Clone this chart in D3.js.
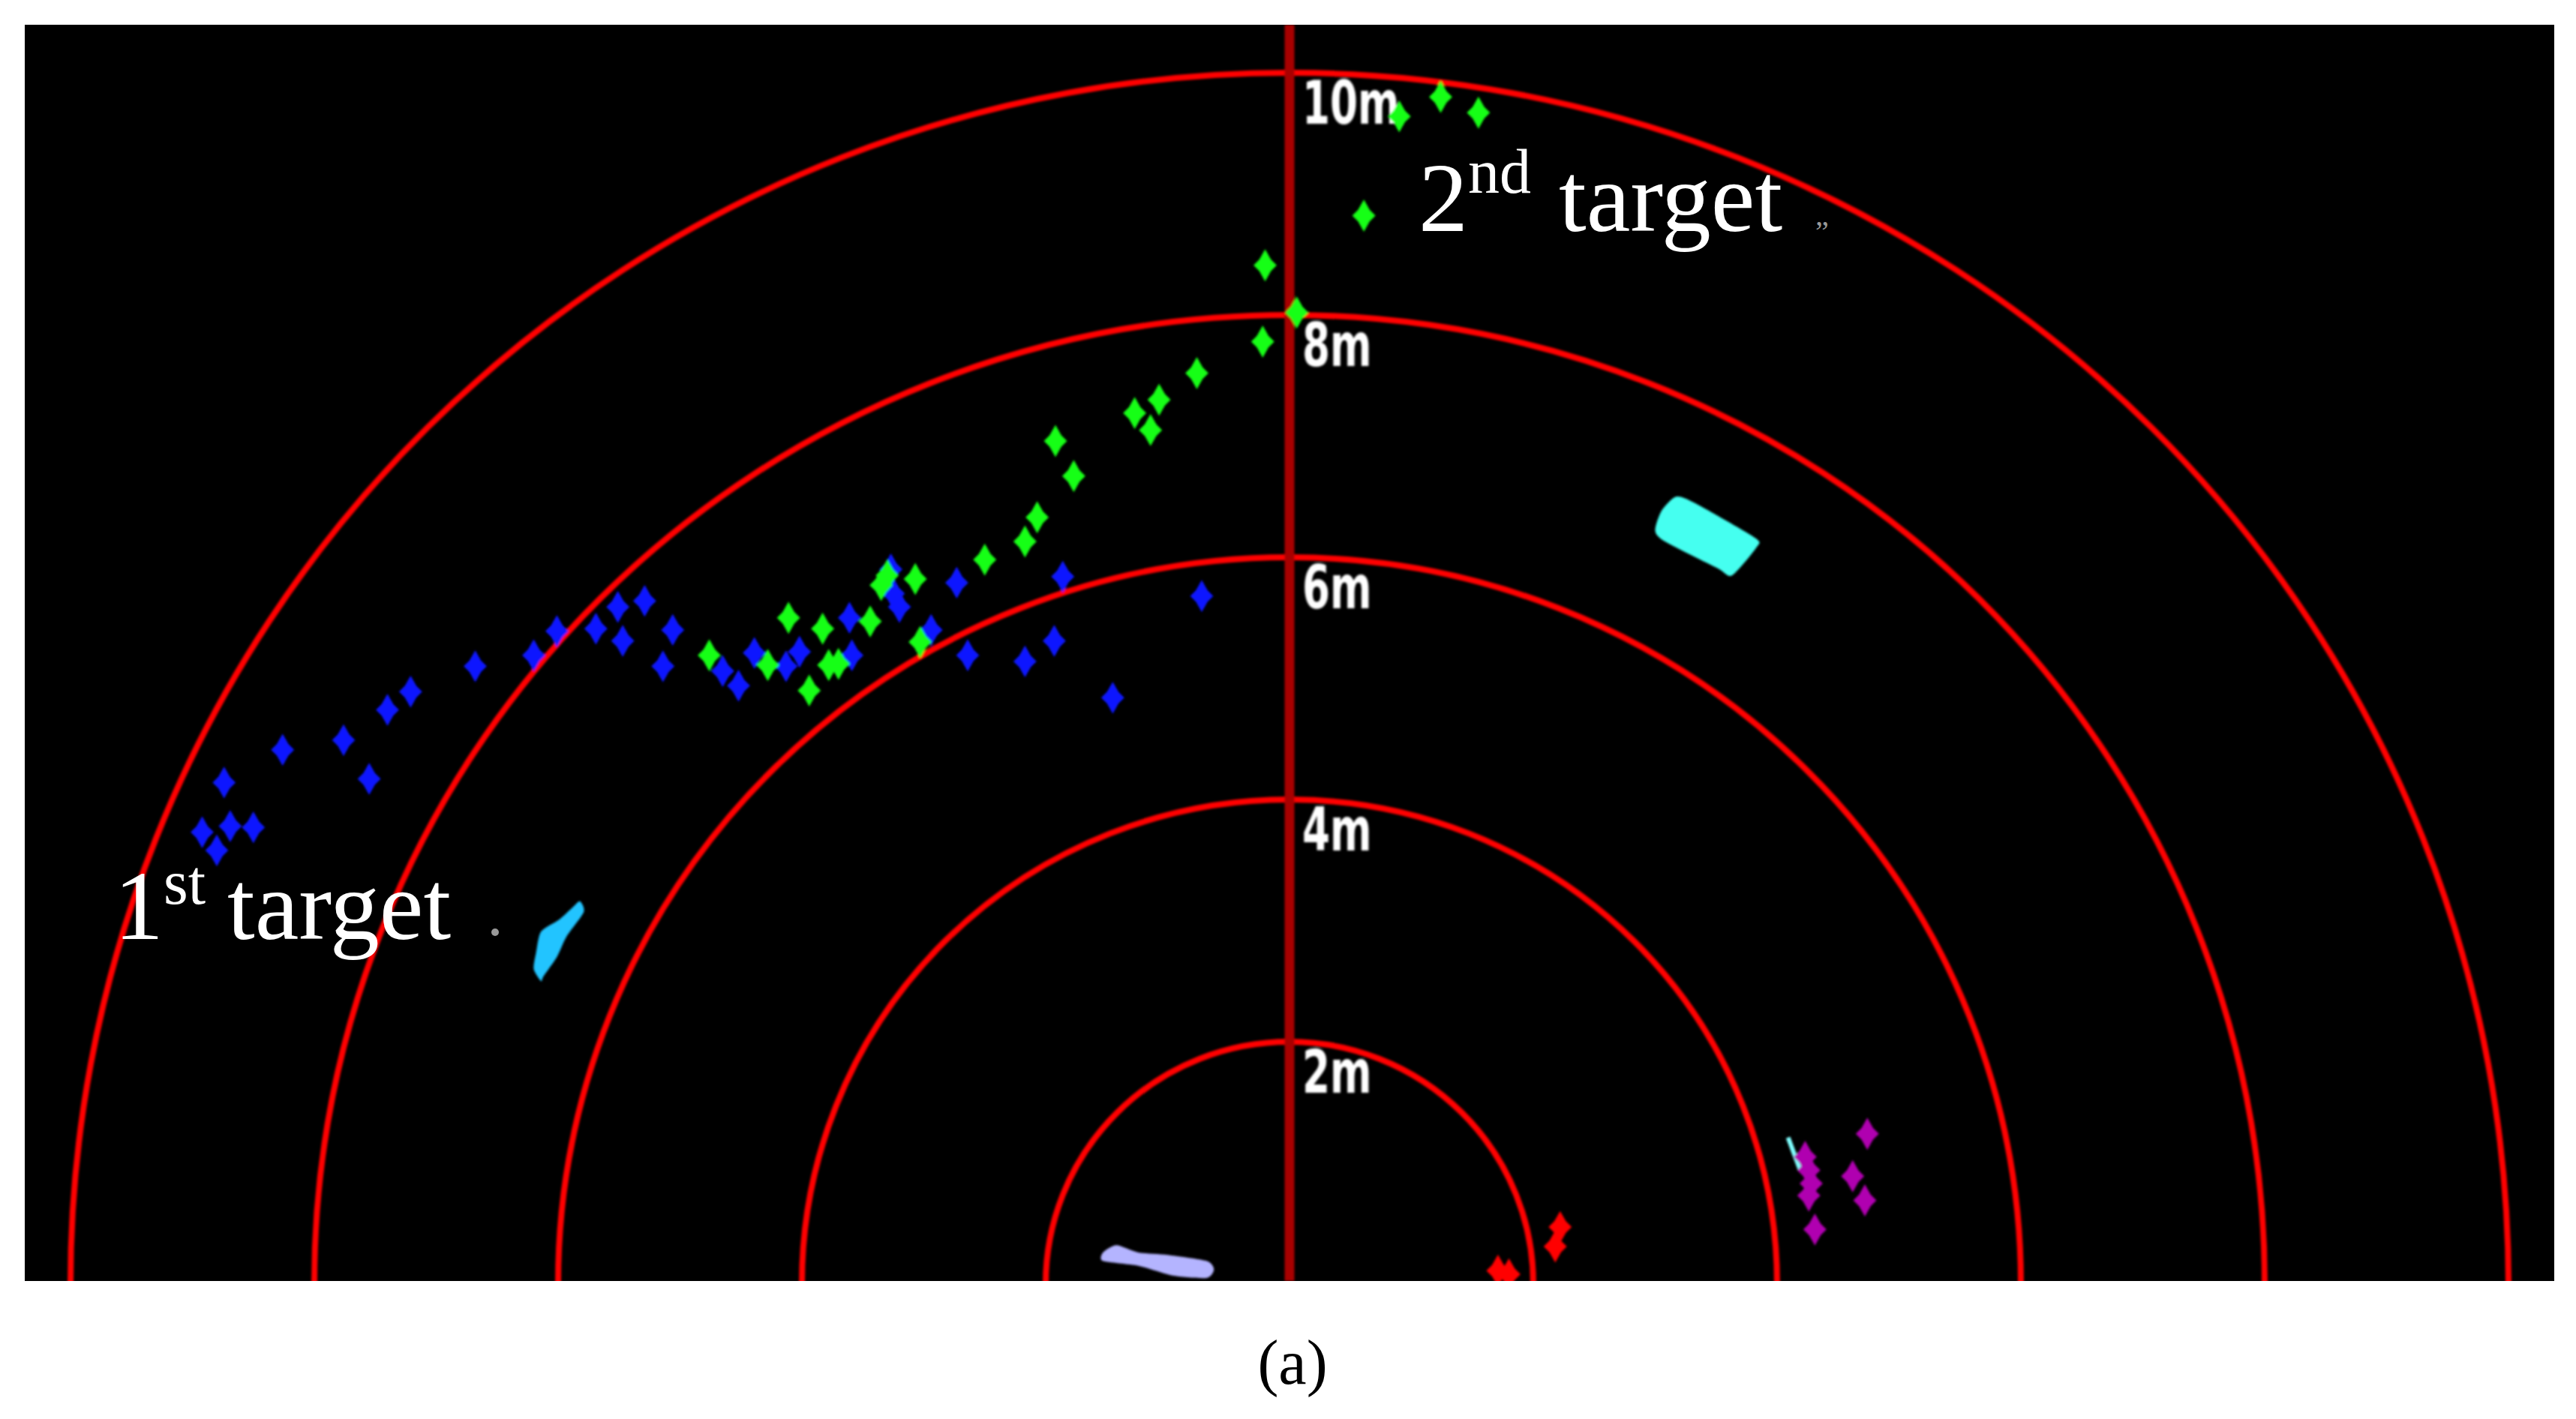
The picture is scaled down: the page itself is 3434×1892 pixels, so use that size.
<!DOCTYPE html>
<html>
<head>
<meta charset="utf-8">
<script src="https://cdn.jsdelivr.net/npm/d3@7"></script>
<style>
  html, body { margin: 0; padding: 0; background: #fff; }
  svg { display: block; }
</style>
</head>
<body>
<div id="chart"></div>
<script>
var width = 3434,
    height = 1892;

// range rings (m)
var rings = [2, 4, 6, 8, 10];
var ringLabels = ["2m", "4m", "6m", "8m", "10m"];

// 1st target track (blue), metres
var blueX = [-0.72, -1.45, -1.86, -1.93, -2.17, -2.64, -2.73, -2.94, -3.20, -3.27, -3.59, -3.61,
             -4.02, -4.13, -4.39, -4.52, -4.65, -5.06, -5.14, -5.29, -5.47, -5.51, -5.69, -6.01,
             -6.20, -6.68, -7.21, -7.40, -7.76, -8.26, -7.55, -8.74, -8.69, -8.50, -8.92, -8.80, -3.25];
var blueY = [5.68, 4.84, 5.84, 5.31, 5.14, 5.19, 5.79, 5.40, 5.59, 5.90, 5.19, 5.50,
             5.22, 5.10, 5.21, 4.94, 5.06, 5.40, 5.10, 5.64, 5.31, 5.59, 5.41, 5.39,
             5.19, 5.10, 4.89, 4.74, 4.49, 4.41, 4.17, 4.14, 3.78, 3.77, 3.73, 3.58, 5.70];

// 2nd target track (green), metres
var greenX = [0.90, 1.24, 1.55, 0.61, -0.20, 0.06, -0.22, -0.76, -1.07, -1.27, -1.14, -1.92,
              -1.77, -2.07, -2.17, -2.50, -3.35, -3.07, -3.44, -4.11, -3.83, -3.03, -4.28, -3.78,
              -3.94, -4.76, -3.30, -3.70];
var greenY = [9.64, 9.80, 9.67, 8.82, 8.41, 8.02, 7.78, 7.52, 7.30, 7.19, 7.05, 6.96,
              6.67, 6.33, 6.13, 5.98, 5.77, 5.82, 5.47, 5.50, 5.41, 5.30, 5.11, 5.11,
              4.90, 5.19, 5.85, 5.12];

// other returns
var magentaX = [4.74, 4.62, 4.72, 4.26, 4.26, 4.31, 4.23, 4.28];
var magentaY = [1.24, 0.89, 0.69, 0.94, 0.73, 0.45, 1.05, 0.83];
var redX = [1.71, 1.80, 2.22, 2.18];
var redY = [0.11, 0.08, 0.47, 0.31];

// blobs (outline points, metres)
var blob1X = [-5.82, -5.79, -5.93, -6.01, -6.12, -6.14, -6.20, -6.18, -6.14, -5.99, -5.88];
var blob1Y = [3.16, 3.07, 2.87, 2.70, 2.54, 2.50, 2.60, 2.74, 2.91, 3.01, 3.11];
var blob2X = [3.00, 3.05, 3.17, 3.32, 3.82, 3.83, 3.63, 3.51, 3.08];
var blob2Y = [6.22, 6.38, 6.50, 6.45, 6.16, 6.08, 5.85, 5.91, 6.13];
var blob3X = [-1.53, -1.42, -1.24, -1.00, -0.68, -0.62, -0.68, -0.96, -1.24, -1.53];
var blob3Y = [0.26, 0.32, 0.26, 0.24, 0.19, 0.12, 0.05, 0.07, 0.15, 0.19];
var trailX = [4.09, 4.19];
var trailY = [1.21, 0.94];

var svg = d3.select("#chart").append("svg")
    .attr("width", width)
    .attr("height", height);

var panel = {left: 33, top: 33, right: 3405, bottom: 1708};
var cx = 1719, cy = 1712;

var x = d3.scaleLinear().domain([-10, 10]).range([cx - 1625, cx + 1625]);
var y = d3.scaleLinear().domain([0, 10]).range([cy, cy - 1615]);

var defs = svg.append("defs");
defs.append("clipPath").attr("id", "panelClip")
  .append("rect")
    .attr("x", panel.left).attr("y", panel.top)
    .attr("width", panel.right - panel.left)
    .attr("height", panel.bottom - panel.top);
defs.append("filter").attr("id", "soft")
  .append("feGaussianBlur").attr("stdDeviation", 1.4);

svg.append("rect")
    .attr("x", panel.left).attr("y", panel.top)
    .attr("width", panel.right - panel.left)
    .attr("height", panel.bottom - panel.top)
    .attr("fill", "black");

var g = svg.append("g")
    .attr("clip-path", "url(#panelClip)")
  .append("g")
    .attr("filter", "url(#soft)");

// rings
g.selectAll(".ring")
  .data(rings)
  .enter().append("ellipse")
    .attr("class", "ring")
    .attr("cx", x(0))
    .attr("cy", y(0))
    .attr("rx", function(d) { return x(d) - x(0); })
    .attr("ry", function(d) { return y(0) - y(d); })
    .attr("fill", "none")
    .attr("stroke", "#ff0000")
    .attr("stroke-width", 8);

// centre axis
g.append("line")
    .attr("x1", x(0)).attr("x2", x(0))
    .attr("y1", panel.top).attr("y2", panel.bottom)
    .attr("stroke", "#a80000")
    .attr("stroke-width", 13);

// range labels (narrow bold, squeezed horizontally)
g.selectAll(".rlabel")
  .data(rings)
  .enter().append("text")
    .attr("class", "rlabel")
    .attr("transform", function(d) {
      return "translate(" + (x(0) + 17) + "," + (y(d) + 68) + ") scale(0.8,1.08)";
    })
    .attr("fill", "white")
    .attr("font-family", "'Liberation Sans Narrow', 'DejaVu Sans Condensed', 'Liberation Sans', sans-serif")
    .attr("font-weight", "bold")
    .attr("font-size", 74)
    .text(function(d, i) { return ringLabels[i]; });

var line = d3.line()
    .x(function(d) { return x(d[0]); })
    .y(function(d) { return y(d[1]); })
    .curve(d3.curveCardinalClosed.tension(0.3));

function blob(xs, ys, color) {
  g.append("path")
    .datum(d3.zip(xs, ys))
    .attr("d", line)
    .attr("fill", color);
}
blob(blob1X, blob1Y, "#22c4ff");
blob(blob2X, blob2Y, "#44fff0");
blob(blob3X, blob3Y, "#b4b4ff");

g.append("path")
    .datum(d3.zip(trailX, trailY))
    .attr("d", d3.line().x(function(d) { return x(d[0]); }).y(function(d) { return y(d[1]); }))
    .attr("stroke", "#80ffff")
    .attr("stroke-width", 6)
    .attr("fill", "none");

// 4-point star marker
var star4 = {
  draw: function(ctx, size) {
    var a = Math.sqrt(size), b = a * 0.72, c = a * 0.36;
    ctx.moveTo(0, -a);
    ctx.lineTo(c, -c);
    ctx.lineTo(b, 0);
    ctx.lineTo(c, c);
    ctx.lineTo(0, a);
    ctx.lineTo(-c, c);
    ctx.lineTo(-b, 0);
    ctx.lineTo(-c, -c);
    ctx.closePath();
  }
};
var marker = d3.symbol().type(star4).size(460);

function markers(xs, ys, color, cls) {
  g.selectAll("." + cls)
    .data(d3.zip(xs, ys))
    .enter().append("path")
      .attr("class", cls)
      .attr("d", marker)
      .attr("transform", function(d) { return "translate(" + x(d[0]) + "," + y(d[1]) + ")"; })
      .attr("fill", color);
}
markers(blueX, blueY, "#0a14ff", "blue");
markers(greenX, greenY, "#14ff14", "green");
markers(magentaX, magentaY, "#b000b0", "magenta");
markers(redX, redY, "#ff0000", "red");

// annotations
var ann = svg.append("g")
    .attr("font-family", "'Liberation Serif', 'Times New Roman', serif")
    .attr("fill", "white");

var t2 = ann.append("text").attr("x", 1891).attr("y", 308).attr("font-size", 132);
t2.append("tspan").text("2");
t2.append("tspan").attr("dy", -51).attr("font-size", 84).text("nd");
t2.append("tspan").attr("x", 2078).attr("dy", 51).text("target");

var t1 = ann.append("text").attr("x", 152).attr("y", 1252).attr("font-size", 132);
t1.append("tspan").text("1");
t1.append("tspan").attr("dy", -47).attr("font-size", 84).text("st");
t1.append("tspan").attr("x", 303).attr("dy", 47).text("target");

ann.append("circle").attr("cx", 660).attr("cy", 1243).attr("r", 5).attr("fill", "#999");
ann.append("text").attr("x", 2420).attr("y", 300).attr("font-size", 40).attr("fill", "#999").text("\u201E");

svg.append("text")
    .attr("x", 1723)
    .attr("y", 1845)
    .attr("text-anchor", "middle")
    .attr("font-family", "'Liberation Serif', 'Times New Roman', serif")
    .attr("font-size", 84)
    .attr("fill", "black")
    .text("(a)");
</script>
</body>
</html>
